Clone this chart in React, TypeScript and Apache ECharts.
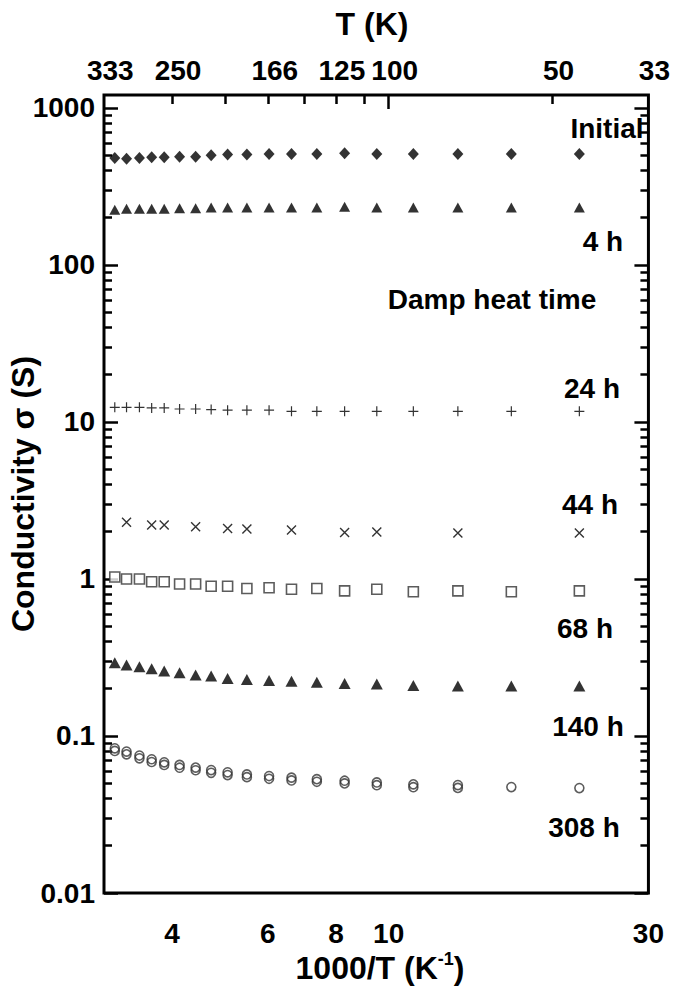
import React, { useEffect, useRef } from "react";
import * as echarts from "echarts";

// 1000/T values (K^-1) of the measurement temperatures
const xInvT = [3.14, 3.30, 3.485, 3.67, 3.87, 4.13, 4.42, 4.72, 5.06, 5.49, 6.03, 6.63, 7.38, 8.30, 9.51, 11.1, 13.4, 16.8, 22.4];

// Conductivity (S) per damp heat time
const initialS = [480, 475, 480, 485, 485, 490, 490, 500, 505, 505, 510, 510, 510, 515, 510, 510, 510, 510, 510];
const h4S = [225, 228, 228, 228, 228, 230, 230, 232, 232, 232, 232, 232, 232, 235, 232, 232, 232, 232, 232];
const h24S = [12.4, 12.4, 12.4, 12.3, 12.3, 12.1, 12.1, 12.0, 11.9, 11.9, 11.9, 11.7, 11.7, 11.7, 11.7, 11.7, 11.7, 11.7, 11.7];
const h44X = [3.30, 3.67, 3.87, 4.42, 5.06, 5.49, 6.63, 8.30, 9.51, 13.4, 22.4];
const h44S = [2.30, 2.21, 2.21, 2.15, 2.10, 2.08, 2.05, 1.98, 1.99, 1.96, 1.96];
const h68S = [1.03, 1.00, 1.00, 0.96, 0.96, 0.93, 0.93, 0.90, 0.90, 0.87, 0.88, 0.86, 0.87, 0.84, 0.86, 0.83, 0.84, 0.83, 0.84];
const h140S = [0.293, 0.283, 0.276, 0.268, 0.259, 0.253, 0.245, 0.241, 0.232, 0.229, 0.226, 0.223, 0.220, 0.216, 0.214, 0.210, 0.208, 0.208, 0.208];
const h308S = [0.0835, 0.0796, 0.0751, 0.0711, 0.0680, 0.0654, 0.0629, 0.0607, 0.0587, 0.0569, 0.0556, 0.0543, 0.0531, 0.0519, 0.0506, 0.0492, 0.0487, 0.0473, 0.0466];
const h308RepeatS = [0.0803, 0.0764, 0.0721, 0.0683, 0.0654, 0.0628, 0.0605, 0.0583, 0.0564, 0.0547, 0.0534, 0.0521, 0.0511, 0.0499, 0.0486, 0.0472, 0.0467];

// Axis ticks and labels
const yMajorTicks = [0.01, 0.1, 1, 10, 100, 1000];
const yMajorLabels = ["0.01", "0.1", "1", "10", "100", "1000"];
const yMinorTicks = [
  0.02, 0.03, 0.04, 0.05, 0.06, 0.07, 0.08, 0.09,
  0.2, 0.3, 0.4, 0.5, 0.6, 0.7, 0.8, 0.9,
  2, 3, 4, 5, 6, 7, 8, 9,
  20, 30, 40, 50, 60, 70, 80, 90,
  200, 300, 400, 500, 600, 700, 800, 900,
];
const xBottomTicks = [4, 6, 8, 10, 30];
const xBottomLabels = ["4", "6", "8", "10", "30"];
const xTopLabelPos = [3.003, 4, 6.024, 8, 10, 20, 30];
const xTopLabels = ["333", "250", "166", "125", "100", "50", "33"];
const xTopMinorTicks = [4, 5, 6, 7, 8, 9, 20];
const xTopMajorTicks = [10];

const X_MIN = 3;
const X_MAX = 30;
const Y_MIN = 0.01;
const Y_MAX = 1210;

const FONT = '"Liberation Sans", Arial, Helvetica, sans-serif';

function lookup(values: number[], labels: string[], v: number) {
  for (let i = 0; i < values.length; i++) {
    if (Math.abs(Math.log10(values[i]) - Math.log10(v)) < 1e-4) return labels[i];
  }
  return "";
}

const zip = (xs: number[], ys: number[]) => ys.map((y, i) => [xs[i], y]);

const tickLine = { color: "#000", width: 2.5 };

function yAxisDef(position: "left" | "right", ticks: number[], len: number, labels: boolean) {
  return {
    type: "log",
    position,
    min: Y_MIN,
    max: Y_MAX,
    axisLine: { show: false },
    splitLine: { show: false },
    minorTick: { show: false },
    axisTick: { show: true, inside: true, length: len, customValues: ticks, lineStyle: tickLine },
    axisLabel: labels
      ? {
          show: true,
          customValues: yMajorTicks,
          margin: 9,
          color: "#000",
          fontFamily: FONT,
          fontWeight: "bold",
          fontSize: 28,
          formatter: (v: number) => lookup(yMajorTicks, yMajorLabels, v),
        }
      : { show: false },
  };
}

export default function App() {
  const ref = useRef<HTMLDivElement>(null);
  useEffect(() => {
    const chart = echarts.init(ref.current!, null, { renderer: "svg" });
    const textStyle = (size: number) => ({
      font: `bold ${size}px ${FONT}`,
      fill: "#000",
      align: "center",
      verticalAlign: "middle",
    });
    const annotations = [
      { t: "Initial", x: 607, y: 128 },
      { t: "4 h", x: 603, y: 241 },
      { t: "Damp heat time", x: 492, y: 299 },
      { t: "24 h", x: 592, y: 388 },
      { t: "44 h", x: 590, y: 504 },
      { t: "68 h", x: 585, y: 628 },
      { t: "140 h", x: 588, y: 726 },
      { t: "308 h", x: 584, y: 827 },
    ];
    const option: any = {
      animation: false,
      backgroundColor: "#fff",
      grid: { left: 104, right: 14, top: 95, bottom: 107, show: true, borderColor: "#000", borderWidth: 3 },
      xAxis: [
        {
          type: "log",
          position: "bottom",
          min: X_MIN,
          max: X_MAX,
          axisLine: { show: false },
          splitLine: { show: false },
          axisTick: { show: false },
          axisLabel: {
            customValues: xBottomTicks,
            margin: 26,
            color: "#000",
            fontFamily: FONT,
            fontWeight: "bold",
            fontSize: 28,
            formatter: (v: number) => lookup(xBottomTicks, xBottomLabels, v),
          },
        },
        {
          type: "log",
          position: "top",
          min: X_MIN,
          max: X_MAX,
          axisLine: { show: false },
          splitLine: { show: false },
          axisTick: { show: true, inside: true, length: 9, customValues: xTopMinorTicks, lineStyle: tickLine },
          axisLabel: {
            customValues: xTopLabelPos,
            margin: 11,
            padding: [0, 0, 0, 12],
            color: "#000",
            fontFamily: FONT,
            fontWeight: "bold",
            fontSize: 28,
            formatter: (v: number) => lookup(xTopLabelPos, xTopLabels, v),
          },
        },
        {
          type: "log",
          position: "top",
          min: X_MIN,
          max: X_MAX,
          axisLine: { show: false },
          splitLine: { show: false },
          axisTick: { show: true, inside: true, length: 14, customValues: xTopMajorTicks, lineStyle: tickLine },
          axisLabel: { show: false },
        },
      ],
      yAxis: [
        yAxisDef("left", yMajorTicks, 14, true),
        yAxisDef("left", yMinorTicks, 8, false),
        yAxisDef("right", yMajorTicks, 14, false),
        yAxisDef("right", yMinorTicks, 8, false),
      ],
      series: [
        {
          name: "Initial",
          type: "scatter",
          data: zip(xInvT, initialS),
          symbol: "diamond",
          symbolSize: [11, 12],
          itemStyle: { color: "#000" },
        },
        {
          name: "4 h",
          type: "scatter",
          data: zip(xInvT, h4S),
          symbol: "triangle",
          symbolSize: [11, 10],
          itemStyle: { color: "#000" },
        },
        {
          name: "24 h",
          type: "scatter",
          data: zip(xInvT, h24S),
          symbol: "path://M0,5L10,5M5,0L5,10",
          symbolSize: 10,
          itemStyle: { color: "transparent", borderColor: "#000", borderWidth: 1.2 },
        },
        {
          name: "44 h",
          type: "scatter",
          data: zip(h44X, h44S),
          symbol: "path://M0,0L10,10M10,0L0,10",
          symbolSize: 9,
          itemStyle: { color: "transparent", borderColor: "#000", borderWidth: 1.4 },
        },
        {
          name: "68 h",
          type: "scatter",
          data: zip(xInvT, h68S),
          symbol: "rect",
          symbolSize: 10,
          itemStyle: { color: "#fff", borderColor: "#333", borderWidth: 1.6 },
        },
        {
          name: "140 h",
          type: "scatter",
          data: zip(xInvT, h140S),
          symbol: "triangle",
          symbolSize: [12, 11],
          itemStyle: { color: "#000" },
        },
        {
          name: "308 h",
          type: "scatter",
          data: zip(xInvT, h308S),
          symbol: "circle",
          symbolSize: 9,
          itemStyle: { color: "transparent", borderColor: "#333", borderWidth: 1.6 },
        },
        {
          name: "308 h (repeat)",
          type: "scatter",
          data: zip(xInvT, h308RepeatS),
          symbol: "circle",
          symbolSize: 9,
          itemStyle: { color: "transparent", borderColor: "#333", borderWidth: 1.6 },
        },
      ],
      graphic: [
        { type: "text", x: 372, y: 24, style: { text: "T (K)", ...textStyle(32) } },
        {
          type: "text",
          x: 380,
          y: 968,
          style: {
            text: "{a|1000/T (K}{b|-1}{a|)}",
            align: "center",
            verticalAlign: "middle",
            fill: "#000",
            rich: {
              a: { fontFamily: FONT, fontWeight: "bold", fontSize: 32, lineHeight: 36, fill: "#000" },
              b: { fontFamily: FONT, fontWeight: "bold", fontSize: 18, lineHeight: 18, verticalAlign: "top", fill: "#000" },
            },
          },
        },
        {
          type: "text",
          x: 23,
          y: 494,
          rotation: Math.PI / 2,
          style: { text: "Conductivity σ (S)", ...textStyle(32) },
        },
        ...annotations.map((a) => ({ type: "text", x: a.x, y: a.y, style: { text: a.t, ...textStyle(28) } })),
      ],
    };
    chart.setOption(option);
    return () => chart.dispose();
  }, []);
  return (
    <div
      ref={ref}
      style={{ position: "absolute", left: 0, top: 0, width: 673, height: 1000, background: "#fff" }}
    />
  );
}
